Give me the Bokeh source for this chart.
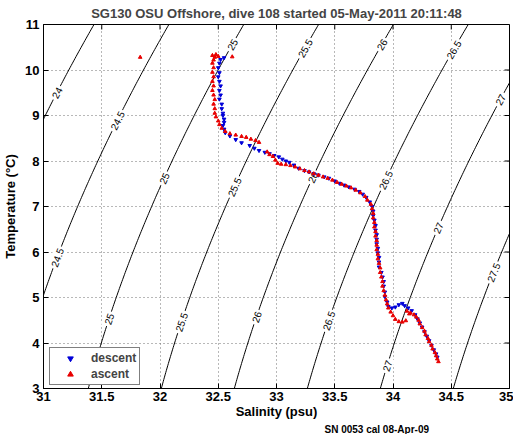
import numpy as np
from bokeh.plotting import figure
from bokeh.models import (Range1d, Legend, Title,
                          LegendItem, FixedTicker, NumeralTickFormatter)
from bokeh.embed import file_html
from bokeh.resources import INLINE
from bokeh.core.properties import value

FONT = "Liberation Sans"

title_text = "SG130 OSU Offshore, dive 108 started 05-May-2011 20:11:48"
footer_text = "SN 0053 cal 08-Apr-09"
x_label = "Salinity (psu)"
y_label = "Temperature (\u00b0C)"
x_ticks = [31, 31.5, 32, 32.5, 33, 33.5, 34, 34.5, 35]
y_ticks = [3, 4, 5, 6, 7, 8, 9, 10, 11]

# density (sigma) contour levels and the temperatures where their labels sit
levels = [24, 24.5, 25, 25.5, 26, 26.5, 27, 27.5]
label_temps = {
    24: [9.50],
    24.5: [8.89, 5.88],
    25: [10.56, 7.62, 4.53],
    25.5: [10.48, 7.43, 4.46],
    26: [10.56, 7.64, 4.57],
    26.5: [10.45, 7.58, 4.49],
    27: [9.35, 6.53, 3.50],
    27.5: [5.55],
}

# descent (blue) salinity / temperature
descent_sal = [32.55, 32.52, 32.51, 32.50, 32.51, 32.50, 32.51, 32.52, 32.51, 32.52,
               32.51, 32.53, 32.53, 32.54, 32.54, 32.55, 32.55, 32.54, 32.55, 32.56,
               32.60, 32.65, 32.70, 32.77, 32.81, 32.85, 32.90, 32.94, 32.98, 33.02,
               33.05, 33.08, 33.11, 33.15, 33.19, 33.24, 33.28, 33.32, 33.36, 33.41,
               33.45, 33.50, 33.54, 33.58, 33.62, 33.67, 33.71, 33.74, 33.77, 33.80,
               33.82, 33.83, 33.83, 33.84, 33.85, 33.85, 33.86, 33.86, 33.86, 33.87,
               33.87, 33.88, 33.88, 33.88, 33.90, 33.91, 33.92, 33.92, 33.93, 33.93,
               33.95, 33.96, 33.99, 34.02, 34.05, 34.08, 34.10, 34.13, 34.16, 34.19,
               34.21, 34.23, 34.25, 34.27, 34.29, 34.31, 34.33, 34.35, 34.37, 34.38]
descent_temp = [10.27, 10.23, 10.15, 10.05, 9.94, 9.85, 9.75, 9.65, 9.55, 9.45,
                9.36, 9.25, 9.15, 9.05, 9.00, 8.92, 8.85, 8.78, 8.70, 8.62,
                8.55, 8.47, 8.40, 8.34, 8.28, 8.23, 8.19, 8.16, 8.12, 8.09,
                8.04, 8.00, 7.97, 7.91, 7.84, 7.79, 7.76, 7.72, 7.69, 7.65,
                7.62, 7.56, 7.51, 7.47, 7.43, 7.38, 7.33, 7.27, 7.20, 7.10,
                7.00, 6.90, 6.80, 6.70, 6.58, 6.48, 6.38, 6.28, 6.18, 6.08,
                5.98, 5.88, 5.78, 5.67, 5.55, 5.45, 5.35, 5.25, 5.12, 5.02,
                4.90, 4.80, 4.77, 4.79, 4.84, 4.87, 4.82, 4.77, 4.71, 4.62,
                4.53, 4.44, 4.35, 4.25, 4.15, 4.05, 3.95, 3.85, 3.76, 3.69]

# ascent (red) salinity / temperature
ascent_sal = [34.39, 34.38, 34.37, 34.36, 34.34, 34.33, 34.31, 34.30, 34.28, 34.27,
              34.25, 34.23, 34.22, 34.20, 34.18, 34.15, 34.12, 34.14, 34.11, 34.08,
              34.05, 34.02, 34.00, 33.98, 33.96, 33.95, 33.94, 33.93, 33.92, 33.91,
              33.91, 33.90, 33.89, 33.89, 33.88, 33.87, 33.87, 33.86, 33.86, 33.86,
              33.85, 33.85, 33.84, 33.84, 33.83, 33.83, 33.82, 33.81, 33.78, 33.76,
              33.72, 33.68, 33.64, 33.60, 33.56, 33.52, 33.48, 33.44, 33.40, 33.36,
              33.32, 33.28, 33.24, 33.20, 33.16, 33.12, 33.08, 33.04, 33.01, 32.99,
              32.97, 32.94, 32.92, 32.85, 32.82, 32.78, 32.74, 32.70, 32.65, 32.60,
              32.56, 32.53, 32.51, 32.50, 32.48, 32.47, 32.47, 32.46, 32.47, 32.46,
              32.45, 32.46, 32.45, 32.46, 32.45, 32.46, 32.45, 32.46, 32.47, 32.45,
              32.48, 32.50, 31.83, 32.62]
ascent_temp = [3.59, 3.65, 3.72, 3.79, 3.87, 3.95, 4.03, 4.10, 4.18, 4.26,
               4.34, 4.42, 4.50, 4.57, 4.62, 4.66, 4.70, 4.64, 4.49, 4.46,
               4.47, 4.52, 4.60, 4.68, 4.77, 4.86, 4.95, 5.05, 5.15, 5.25,
               5.35, 5.45, 5.55, 5.65, 5.75, 5.85, 5.95, 6.05, 6.15, 6.25,
               6.35, 6.45, 6.55, 6.65, 6.75, 6.85, 6.95, 7.05, 7.14, 7.22,
               7.30, 7.36, 7.41, 7.45, 7.49, 7.53, 7.58, 7.62, 7.65, 7.69,
               7.72, 7.76, 7.79, 7.83, 7.87, 7.90, 7.92, 7.93, 7.95, 8.02,
               8.10, 8.14, 8.20, 8.41, 8.45, 8.48, 8.52, 8.54, 8.57, 8.60,
               8.65, 8.72, 8.80, 8.88, 8.97, 9.05, 9.15, 9.25, 9.35, 9.45,
               9.55, 9.65, 9.75, 9.85, 9.95, 10.05, 10.15, 10.22, 10.28, 10.32,
               10.34, 10.30, 10.28, 10.29]


def sigma_t(S, T):
    # UNESCO EOS-80 density at atmospheric pressure, minus 1000
    rw = (999.842594 + 6.793952e-2 * T - 9.095290e-3 * T**2 + 1.001685e-4 * T**3
          - 1.120083e-6 * T**4 + 6.536332e-9 * T**5)
    A = 8.24493e-1 - 4.0899e-3 * T + 7.6438e-5 * T**2 - 8.2467e-7 * T**3 + 5.3875e-9 * T**4
    B = -5.72466e-3 + 1.0227e-4 * T - 1.6546e-6 * T**2
    C = 4.8314e-4
    return rw + A * S + B * S**1.5 + C * S**2 - 1000.0


def sal_on_level(level, T):
    T = np.asarray(T, dtype=float)
    lo = np.full_like(T, 20.0)
    hi = np.full_like(T, 42.0)
    for _ in range(60):
        mid = 0.5 * (lo + hi)
        f = sigma_t(mid, T) - level
        hi = np.where(f > 0, mid, hi)
        lo = np.where(f > 0, lo, mid)
    return 0.5 * (lo + hi)


FW, FH = 466, 364
XR, YR = (31, 35), (3, 11)
px_x = FW / (XR[1] - XR[0])
px_y = FH / (YR[1] - YR[0])
TICK = 5

p = figure(frame_width=FW, frame_height=FH, x_range=Range1d(*XR), y_range=Range1d(*YR),
           output_backend="svg", toolbar_location=None,
           min_border_left=0, min_border_right=4, min_border_top=0, min_border_bottom=0,
           background_fill_color="white", border_fill_color="white")

p.title.text = title_text
p.title.text_font = FONT
p.title.text_font_size = "13px"
p.title.text_font_style = "bold"
p.title.align = "center"
p.title.standoff = 7

# contours
T_grid = np.linspace(2.0, 12.0, 201)
xs, ys = [], []
for lv in levels:
    xs.append(list(sal_on_level(lv, T_grid)))
    ys.append(list(T_grid))
p.multi_line(xs=xs, ys=ys, line_color="black", line_width=1)

# contour labels
lx, ly, lt, la = [], [], [], []
for lv in levels:
    for t in label_temps[lv]:
        s = float(sal_on_level(lv, [t])[0])
        s2 = float(sal_on_level(lv, [t + 0.05])[0])
        ang = np.arctan2(0.05 * px_y, (s2 - s) * px_x)
        lx.append(s)
        ly.append(t)
        lt.append(("%g" % lv))
        la.append(float(ang))
p.text(x=lx, y=ly, text=lt, angle=la, text_font=value(FONT), text_font_size="10px",
       text_align="center", text_baseline="middle", text_color="black",
       background_fill_color="white", padding=2)

# box ticks on top and right (inward), at the same tick values
p.segment(x0=x_ticks, y0=[YR[1]] * len(x_ticks), x1=x_ticks,
          y1=[YR[1] - TICK / px_y] * len(x_ticks), line_color="black", line_width=1)
p.segment(x0=[XR[1]] * len(y_ticks), y0=y_ticks, x1=[XR[1] - TICK / px_x] * len(y_ticks),
          y1=y_ticks, line_color="black", line_width=1)

# data
r_d = p.scatter(descent_sal, descent_temp, marker="inverted_triangle", size=3.6,
                fill_color="#0000d8", line_color="#0000d8")
r_a = p.scatter(ascent_sal, ascent_temp, marker="triangle", size=3.6,
                fill_color="#e80000", line_color="#e80000")

# axes
for ax in (p.xaxis[0], p.yaxis[0]):
    ax.major_tick_in = TICK
    ax.major_tick_out = 0
    ax.minor_tick_line_color = None
    ax.major_label_text_font = FONT
    ax.major_label_text_font_size = "13px"
    ax.major_label_text_font_style = "bold"
    ax.axis_label_text_font = FONT
    ax.axis_label_text_font_size = "13px"
    ax.axis_label_text_font_style = "bold"
    ax.axis_label_text_color = "black"
    ax.major_label_text_color = "black"
    ax.axis_line_color = "black"
    ax.major_tick_line_color = "black"

p.xaxis.ticker = FixedTicker(ticks=x_ticks)
p.yaxis.ticker = FixedTicker(ticks=y_ticks)
p.xaxis.formatter = NumeralTickFormatter(format="0.[0]")
p.yaxis.formatter = NumeralTickFormatter(format="0")
p.xaxis.axis_label = x_label
p.yaxis.axis_label = y_label
p.xaxis.major_label_standoff = 3
p.yaxis.major_label_standoff = 4
p.xaxis.axis_label_standoff = 0
p.yaxis.axis_label_standoff = 4

p.xgrid.ticker = FixedTicker(ticks=x_ticks)
p.ygrid.ticker = FixedTicker(ticks=y_ticks)
p.grid.grid_line_color = "#707070"
p.grid.grid_line_dash = "1 3"
p.grid.grid_line_width = 1
p.outline_line_color = "black"

legend = Legend(items=[LegendItem(label="descent", renderers=[r_d]),
                       LegendItem(label="ascent", renderers=[r_a])],
                location=(6, 3), label_text_font=FONT, label_text_font_size="12px",
                label_text_font_style="bold", border_line_color="black",
                border_line_width=1, background_fill_color="white", background_fill_alpha=1,
                padding=3, spacing=2, margin=0, glyph_width=34, glyph_height=14,
                label_height=14, label_standoff=4)
p.add_layout(legend)

p.add_layout(Title(text=footer_text, align="left", offset=281, text_font=FONT,
                   text_font_size="10px", text_font_style="bold", standoff=0,
                   text_color="black"), "below")

open("out.html", "w").write(file_html(p, INLINE))
